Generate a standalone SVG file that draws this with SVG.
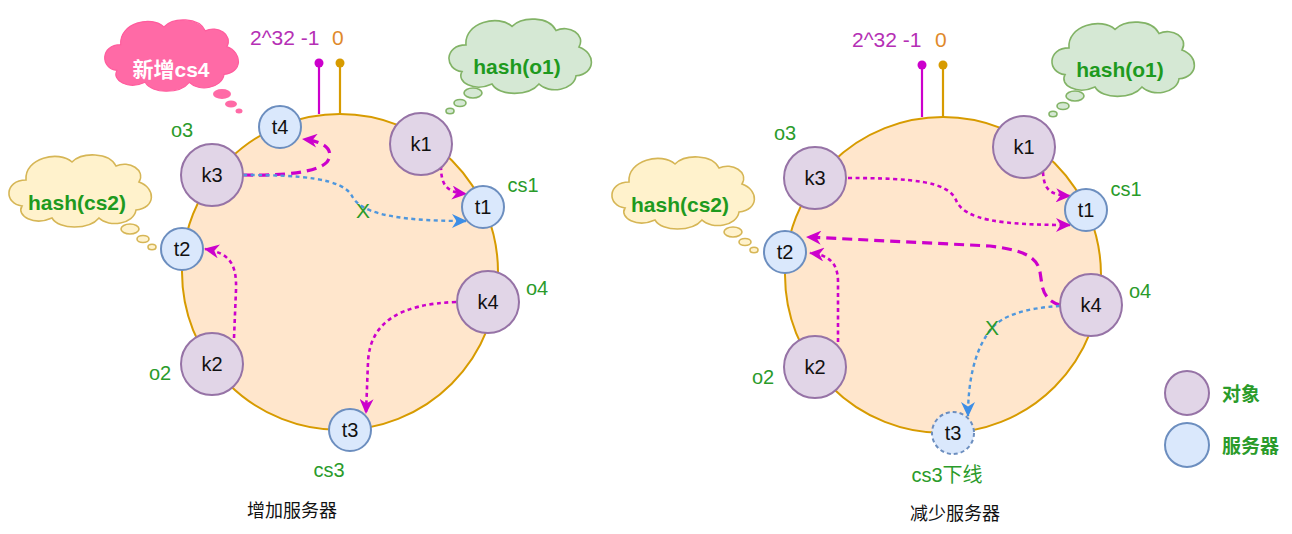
<svg xmlns="http://www.w3.org/2000/svg" width="1292" height="534" viewBox="0 0 1292 534">
<defs>
<style>
text{font-family:"Liberation Sans","Noto Sans CJK SC",sans-serif}
.ring{fill:#ffe6cc;stroke:#d79b00;stroke-width:2}
.obj{fill:#e1d5e7;stroke:#9673a6;stroke-width:2}
.srv{fill:#dae8fc;stroke:#6c8ebf;stroke-width:2}
.srvd{fill:#dae8fc;stroke:#6c8ebf;stroke-width:2;stroke-dasharray:4 3}
.nl{font-size:20px;fill:#111;text-anchor:middle}
.lab{font-size:20px;fill:#2a9b2a;text-anchor:middle}
.hash{font-size:21px;font-weight:bold;fill:#1e9a1e;text-anchor:middle}
.title{font-size:18px;fill:#111;text-anchor:middle}
.leg{font-size:19px;font-weight:bold;fill:#2a9b2a}
.dot{fill:none;stroke:#cc00cc;stroke-width:2.6;stroke-dasharray:4 3.5}
.dash{fill:none;stroke:#cc00cc;stroke-width:3.2;stroke-dasharray:10 6}
.blue{fill:none;stroke:#4f97dd;stroke-width:2.4;stroke-dasharray:4 3.5}
.cy{fill:#fff2cc;stroke:#d6b656;stroke-width:1.6}
.cg{fill:#d5e8d4;stroke:#82b366;stroke-width:1.6}
.cp{fill:#ff6aa6;stroke:#ff5c9d;stroke-width:1.2}
.pur{stroke:#cc00cc;stroke-width:2.2;fill:none}
.org{stroke:#d79b00;stroke-width:2.2;fill:none}
.num{font-size:21px}
</style>
<path id="cloud" d="M22,30 C20,8 55,0 68,12 C78,2 105,2 112,16 C125,10 142,20 135,32 C152,38 152,58 132,60 C130,74 105,78 95,68 C85,80 55,80 48,68 C30,76 12,66 18,56 C0,54 0,30 22,30 Z"/>
<marker id="am" viewBox="0 0 15 14" refX="14" refY="7" markerWidth="15" markerHeight="14" orient="auto" markerUnits="userSpaceOnUse"><path d="M0,0 L15,7 L0,14 L4.5,7 Z" fill="#cc00cc"/></marker>
<marker id="ab" viewBox="0 0 15 14" refX="14" refY="7" markerWidth="15" markerHeight="14" orient="auto" markerUnits="userSpaceOnUse"><path d="M0,0 L15,7 L0,14 L4.5,7 Z" fill="#3d8ee6"/></marker>
</defs>
<rect width="1292" height="534" fill="#ffffff"/>

<!-- LEFT DIAGRAM -->
<g id="left-ring"><circle class="ring" cx="340" cy="272" r="158"/></g>
<g id="left-markers">
<line class="pur" x1="319" y1="64" x2="319" y2="114"/><circle cx="319" cy="63" r="4.5" fill="#cc00cc"/>
<line class="org" x1="340" y1="64" x2="340" y2="114"/><circle cx="340" cy="63" r="4.5" fill="#d79b00"/>
<text class="num" x="250" y="45" fill="#b52fb5">2^32 -1</text>
<text class="num" x="332" y="45" fill="#e0892a">0</text>
</g>

<g id="left-cloud-cs4">
<use href="#cloud" class="cp" transform="translate(100,15) scale(0.94,0.99)"/>
<ellipse cx="222" cy="94" rx="9" ry="5" fill="#ff6aa6"/>
<ellipse cx="231" cy="104" rx="6" ry="3.5" fill="#ff6aa6"/>
<ellipse cx="239" cy="111" rx="3.5" ry="2.5" fill="#ff6aa6"/>
<text x="171" y="77" style="font-size:21px;font-weight:bold;fill:#ffffff;text-anchor:middle">新增cs4</text>
</g>
<g id="left-cloud-cs2">
<use href="#cloud" class="cy" transform="translate(4,150)"/>
<ellipse class="cy" cx="130" cy="229" rx="9" ry="5"/>
<ellipse class="cy" cx="143" cy="239" rx="6" ry="3.5"/>
<ellipse class="cy" cx="152" cy="247" rx="4" ry="2.7"/>
<text class="hash" x="77" y="210">hash(cs2)</text>
</g>
<g id="left-cloud-o1">
<use href="#cloud" class="cg" transform="translate(444,14) scale(1,1.03)"/>
<ellipse class="cg" cx="473" cy="93" rx="9" ry="5"/>
<ellipse class="cg" cx="460" cy="103" rx="6" ry="3.5"/>
<ellipse class="cg" cx="450" cy="111" rx="4" ry="2.7"/>
<text class="hash" x="517" y="74">hash(o1)</text>
</g>

<g id="left-connectors">
<path class="dash" d="M243,175 C285,176 318,172 327,162 C334,152 328,142 303,139" marker-end="url(#am)"/>
<path class="blue" d="M243,175 C300,175 342,178 352,196 C360,212 390,221 466,221" marker-end="url(#ab)"/>
<path class="dot" d="M441,166 C441,186 447,192 466,194" marker-end="url(#am)"/>
<path class="dot" d="M234,338 L236,290 C237,262 228,253 205,249" marker-end="url(#am)"/>
<path class="dot" d="M456,302 C400,304 370,322 368,362 L366,413" marker-end="url(#am)"/>
<text x="363" y="218" style="font-size:21px;fill:#2a9b2a;text-anchor:middle">X</text>
</g>

<g id="left-k1"><circle class="obj" cx="421" cy="144" r="31"/><text class="nl" x="421" y="151">k1</text></g>
<g id="left-k3"><circle class="obj" cx="212" cy="175" r="31"/><text class="nl" x="212" y="182">k3</text></g>
<g id="left-k2"><circle class="obj" cx="212" cy="364" r="31"/><text class="nl" x="212" y="371">k2</text></g>
<g id="left-k4"><circle class="obj" cx="488" cy="302" r="31"/><text class="nl" x="488" y="309">k4</text></g>
<g id="left-t1"><circle class="srv" cx="483" cy="207" r="21"/><text class="nl" x="483" y="214">t1</text></g>
<g id="left-t2"><circle class="srv" cx="182" cy="249" r="21"/><text class="nl" x="182" y="256">t2</text></g>
<g id="left-t3"><circle class="srv" cx="350" cy="430" r="21"/><text class="nl" x="350" y="437">t3</text></g>
<g id="left-t4"><circle class="srv" cx="280" cy="127" r="21"/><text class="nl" x="280" y="134">t4</text></g>

<g id="left-labels">
<text class="lab" x="182" y="137">o3</text>
<text class="lab" x="523" y="192">cs1</text>
<text class="lab" x="537" y="295">o4</text>
<text class="lab" x="160" y="380">o2</text>
<text class="lab" x="329" y="477">cs3</text>
<text class="title" x="292" y="517">增加服务器</text>
</g>

<!-- RIGHT DIAGRAM -->
<g id="right-ring"><circle class="ring" cx="943" cy="275" r="158"/></g>
<g id="right-markers">
<line class="pur" x1="922" y1="66" x2="922" y2="117"/><circle cx="922" cy="65" r="4.5" fill="#cc00cc"/>
<line class="org" x1="943" y1="66" x2="943" y2="117"/><circle cx="943" cy="65" r="4.5" fill="#d79b00"/>
<text class="num" x="852" y="47" fill="#b52fb5">2^32 -1</text>
<text class="num" x="935" y="47" fill="#e0892a">0</text>
</g>
<g id="right-cloud-cs2">
<use href="#cloud" class="cy" transform="translate(607,152)"/>
<ellipse class="cy" cx="733" cy="232" rx="9" ry="5"/>
<ellipse class="cy" cx="745" cy="242" rx="6" ry="3.5"/>
<ellipse class="cy" cx="754" cy="250" rx="4" ry="2.7"/>
<text class="hash" x="680" y="212">hash(cs2)</text>
</g>
<g id="right-cloud-o1">
<use href="#cloud" class="cg" transform="translate(1047,17) scale(1,1.03)"/>
<ellipse class="cg" cx="1075" cy="96" rx="9" ry="5"/>
<ellipse class="cg" cx="1063" cy="106" rx="6" ry="3.5"/>
<ellipse class="cg" cx="1053" cy="114" rx="4" ry="2.7"/>
<text class="hash" x="1120" y="77">hash(o1)</text>
</g>

<g id="right-connectors">
<path class="dot" d="M848,178 C915,178 948,182 956,200 C964,220 1000,225 1070,225" marker-end="url(#am)"/>
<path class="dot" d="M1043,172 C1044,190 1050,195 1070,196" marker-end="url(#am)"/>
<path class="dash" d="M1060,305 C1050,302 1044,296 1042,285 L1040,272 C1037,255 1020,250 990,246 L807,237" marker-end="url(#am)"/>
<path class="dot" d="M838,342 L838,282 C838,262 828,255 810,253" marker-end="url(#am)"/>
<path class="blue" d="M1060,306 C1025,308 1002,316 992,328 C975,348 968,380 968,416" marker-end="url(#ab)"/>
<text x="992" y="335" style="font-size:21px;fill:#2a9b2a;text-anchor:middle">X</text>
</g>

<g id="right-k1"><circle class="obj" cx="1024" cy="147" r="31"/><text class="nl" x="1024" y="154">k1</text></g>
<g id="right-k3"><circle class="obj" cx="815" cy="178" r="31"/><text class="nl" x="815" y="185">k3</text></g>
<g id="right-k2"><circle class="obj" cx="815" cy="367" r="31"/><text class="nl" x="815" y="374">k2</text></g>
<g id="right-k4"><circle class="obj" cx="1091" cy="305" r="31"/><text class="nl" x="1091" y="312">k4</text></g>
<g id="right-t1"><circle class="srv" cx="1086" cy="210" r="21"/><text class="nl" x="1086" y="217">t1</text></g>
<g id="right-t2"><circle class="srv" cx="785" cy="252" r="21"/><text class="nl" x="785" y="259">t2</text></g>
<g id="right-t3"><circle class="srvd" cx="953" cy="433" r="21"/><text class="nl" x="953" y="440">t3</text></g>

<g id="right-labels">
<text class="lab" x="785" y="140">o3</text>
<text class="lab" x="1126" y="196">cs1</text>
<text class="lab" x="1140" y="298">o4</text>
<text class="lab" x="763" y="384">o2</text>
<text class="lab" x="947" y="482">cs3下线</text>
<text class="title" x="955" y="520">减少服务器</text>
</g>

<g id="legend-object"><circle class="obj" cx="1187" cy="393" r="22"/><text class="leg" x="1222" y="401">对象</text></g>
<g id="legend-server"><circle class="srv" cx="1187" cy="445" r="22"/><text class="leg" x="1222" y="453">服务器</text></g>
</svg>
